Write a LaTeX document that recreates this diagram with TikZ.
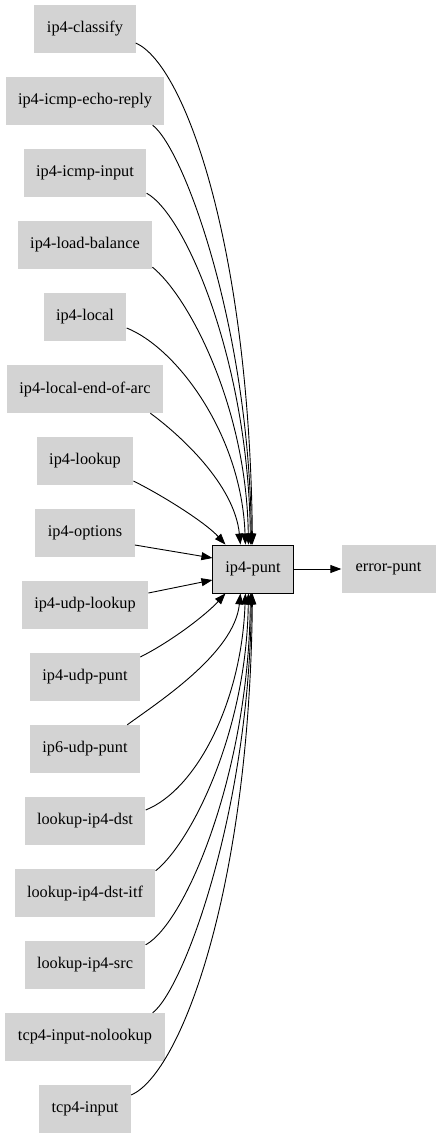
\documentclass[tikz,border=0pt]{standalone}
\usepackage{fontspec}
\setmainfont{Liberation Serif}
\usetikzlibrary{arrows.meta,calc}
\definecolor{nodegray}{RGB}{211,211,211}
\begin{document}
\begin{tikzpicture}[x=1pt,y=-1pt,
  gbox/.style={fill=nodegray, draw=none, minimum height=48pt, inner xsep=12.5pt, inner ysep=0pt, font=\fontsize{16.3}{19}\selectfont},
  pbox/.style={gbox, draw=black, line width=0.9pt},
  conn/.style={-{Triangle[length=11pt,width=8pt]}, line width=0.9pt}]
\useasboundingbox (0,0) rectangle (440,1139);
\node[gbox] (n1) at (85,29) {ip4-classify};
\node[gbox] (n2) at (85,101) {ip4-icmp-echo-reply};
\node[gbox] (n3) at (85,173) {ip4-icmp-input};
\node[gbox] (n4) at (85,245) {ip4-load-balance};
\node[gbox] (n5) at (85,317) {ip4-local};
\node[gbox] (n6) at (85,389) {ip4-local-end-of-arc};
\node[gbox] (n7) at (85,461) {ip4-lookup};
\node[gbox] (n8) at (85,533) {ip4-options};
\node[gbox] (n9) at (85,605) {ip4-udp-lookup};
\node[gbox] (n10) at (85,677) {ip4-udp-punt};
\node[gbox] (n11) at (85,749) {ip6-udp-punt};
\node[gbox] (n12) at (85,821) {lookup-ip4-dst};
\node[gbox] (n13) at (85,893) {lookup-ip4-dst-itf};
\node[gbox] (n14) at (85,965) {lookup-ip4-src};
\node[gbox] (n15) at (85,1037) {tcp4-input-nolookup};
\node[gbox] (n16) at (85,1109) {tcp4-input};
\node[pbox] (punt) at (253,569) {ip4-punt};
\node[gbox, minimum width=94pt] (err) at (388.5,569) {error-punt};

% upper fan-in
\draw[conn] ($(n1.east)+(0,14)$) .. controls +(50,22) and +(-3,-295) .. ($(punt.north west)+(40,0)$);
\draw[conn] ($(n2.south east)+(-12,0)$) .. controls +(32,25) and +(-2,-215) .. ($(punt.north west)+(39,0)$);
\draw[conn] ($(n3.south east)+(0,-4)$) .. controls +(40,22) and +(-2,-180) .. ($(punt.north west)+(38,0)$);
\draw[conn] ($(n4.south east)+(0,-2)$) .. controls +(35,28) and +(-2,-140) .. ($(punt.north west)+(36,0)$);
\draw[conn] ($(n5.east)+(0,11)$) .. controls +(50,20) and +(-4,-110) .. ($(punt.north west)+(33,0)$);
\draw[conn] ($(n6.south east)+(-13,0)$) .. controls +(30,22) and +(-6,-60) .. ($(punt.north west)+(28,0)$);
\draw[conn] ($(n7.east)+(0,20)$) .. controls +(30,15) and +(-20,-22) .. ($(punt.north west)+(13,0)$);
\draw[conn] ($(n8.east)+(0,12)$) -- ($(punt.west)+(0,-11)$);
% lower fan-in
\draw[conn] ($(n9.east)+(0,-12)$) -- ($(punt.west)+(0,11)$);
\draw[conn] ($(n10.east)+(0,-20)$) .. controls +(30,-15) and +(-20,22) .. ($(punt.south west)+(13,0)$);
\draw[conn] ($(n11.north east)+(-13,0)$) .. controls +(30,-22) and +(-6,60) .. ($(punt.south west)+(28,0)$);
\draw[conn] ($(n12.east)+(0,-11)$) .. controls +(50,-20) and +(-4,110) .. ($(punt.south west)+(33,0)$);
\draw[conn] ($(n13.north east)+(0,2)$) .. controls +(35,-28) and +(-2,140) .. ($(punt.south west)+(36,0)$);
\draw[conn] ($(n14.north east)+(0,4)$) .. controls +(40,-22) and +(-2,180) .. ($(punt.south west)+(38,0)$);
\draw[conn] ($(n15.north east)+(-12,0)$) .. controls +(32,-25) and +(-2,215) .. ($(punt.south west)+(39,0)$);
\draw[conn] ($(n16.east)+(0,-14)$) .. controls +(50,-22) and +(-3,295) .. ($(punt.south west)+(40,0)$);
% output
\draw[conn] (punt) -- (err);
\end{tikzpicture}
\end{document}
